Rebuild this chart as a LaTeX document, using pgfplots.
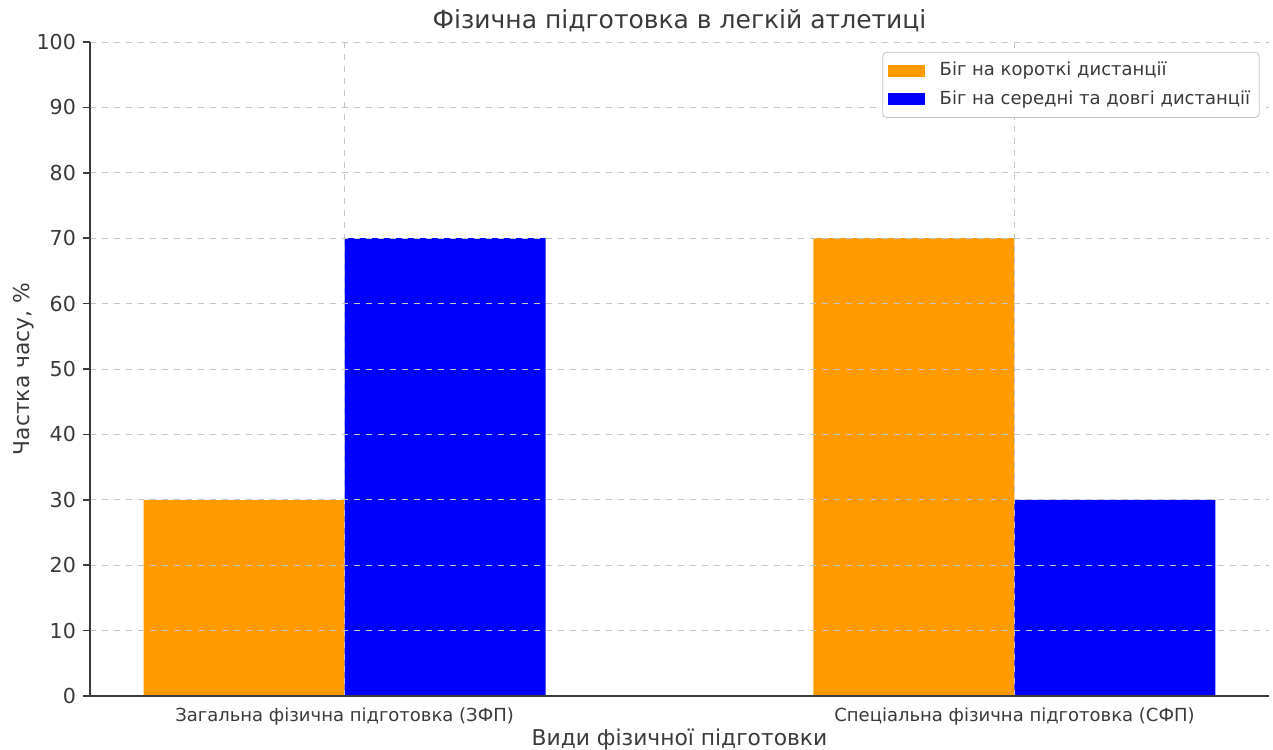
\documentclass[border=0pt]{standalone}
\usepackage{pgfplots}
\pgfplotsset{compat=1.18}
\usepackage{fontspec}
\setmainfont{DejaVu Sans}
\definecolor{txt}{HTML}{3A3A3A}
\definecolor{barorange}{HTML}{FF9A00}
\definecolor{barblue}{HTML}{0000FF}
\definecolor{gridc}{HTML}{C4C4C4}
\begin{document}
\begin{tikzpicture}
\begin{axis}[
    name=ax,
    scale only axis,
    width=589.5pt, height=327pt,
    xmin=-0.38, xmax=1.38,
    ymin=0, ymax=100,
    ytick={0,10,...,100},
    xtick={0,1},
    xticklabels={Загальна фізична підготовка (ЗФП), Спеціальна фізична підготовка (СФП)},
    /pgf/number format/assume math mode=true,
    axis lines*=left,
    axis line style={txt, line width=0.8pt},
    x axis line style={-}, y axis line style={-},
    major tick length=3.5pt,
    xtick style={draw=none},
    ytick style={txt, line width=0.8pt},
    tick align=outside,
    ticklabel style={txt},
    yticklabel style={font=\fontsize{10.3}{12}\selectfont},
    xticklabel style={font=\fontsize{9}{10}\selectfont, yshift=1pt},
    grid=major,
    grid style={gridc, dashed, line width=0.4pt},
    axis on top,
    title={Фізична підготовка в легкій атлетиці},
    title style={txt, font=\fontsize{12.5}{14}\selectfont, yshift=-4.5pt},
    xlabel={Види фізичної підготовки},
    ylabel={Частка часу, \%},
    label style={txt, font=\fontsize{10.9}{12}\selectfont},
    xlabel style={yshift=5pt},
    ylabel style={yshift=-5.5pt},
    legend style={at={(0.992,0.985)}, anchor=north east,
        draw=gridc, rounded corners=2pt, fill=white,
        font=\fontsize{9}{10}\selectfont, text=txt,
        row sep=2pt, inner xsep=2.5pt, inner ysep=3pt},
    legend cell align=left,
    legend image code/.code={\fill[#1, sharp corners] (0pt,-3pt) rectangle (18.5pt,3pt);
        \path (24pt,0pt);},
]
\addplot[ybar, bar width=0.3, bar shift=-0.15, fill=barorange, draw=none] coordinates {(0,30) (1,70)};
\addlegendentry{Біг на короткі дистанції}
\addplot[ybar, bar width=0.3, bar shift=0.15, fill=barblue, draw=none] coordinates {(0,70) (1,30)};
\addlegendentry{Біг на середні та довгі дистанції}
\end{axis}
\pgfresetboundingbox
\path ([xshift=-45pt,yshift=-26.5pt]ax.south west) rectangle ([xshift=2pt,yshift=21pt]ax.north east);
\end{tikzpicture}
\end{document}
